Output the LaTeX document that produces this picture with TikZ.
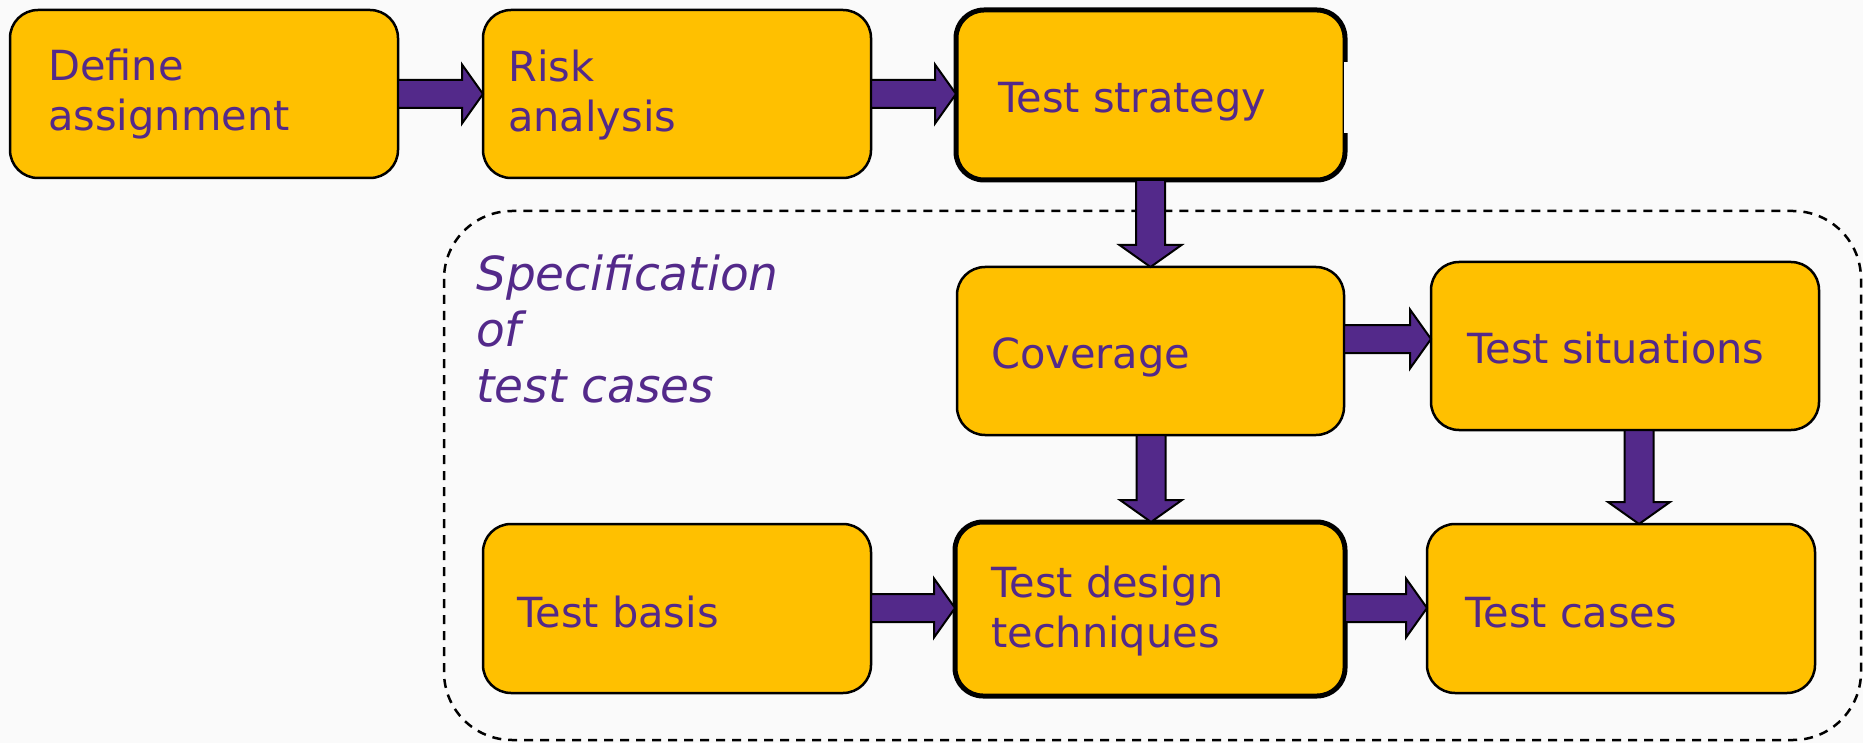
\documentclass[tikz,border=0pt]{standalone}
\usepackage{fontspec}
\setmainfont{DejaVu Sans}
\usetikzlibrary{calc}
\definecolor{boxfill}{RGB}{255,192,0}
\definecolor{purp}{RGB}{83,41,138}
\definecolor{bg}{RGB}{250,250,250}
\tikzset{
  box/.style={draw=black, line width=2.5pt, fill=boxfill, rounded corners=28pt, outer sep=0pt, inner sep=0pt, minimum width=388pt, minimum height=168pt},
  boxthick/.style={box, line width=5pt},
  lbl/.style={anchor=base west, inner sep=0pt, text=purp, align=left, font=\fontsize{41.5}{50}\selectfont},
  speclbl/.style={anchor=base west, inner sep=0pt, text=purp, align=left, font=\fontsize{47}{56}\selectfont\itshape},
  barrow/.style={draw=black, line width=2pt, fill=purp, line join=miter},
  region/.style={draw=black, line width=2.5pt, dash pattern=on 9pt off 7pt, rounded corners=68pt}
}
\newcommand\harr[3]{%
  \draw[barrow] (#1.east |- 0,#3-14) -- ($(#2.west |- 0,#3-14)+(-21,0)$) -- ($(#2.west |- 0,#3-29.5)+(-21,0)$) -- (#2.west |- 0,#3) -- ($(#2.west |- 0,#3+29.5)+(-21,0)$) -- ($(#2.west |- 0,#3+14)+(-21,0)$) -- (#1.east |- 0,#3+14) -- cycle;}
\newcommand\varr[3]{%
  \draw[barrow] (#3-14.5,0 |- #1.south) -- ($(#3-14.5,0 |- #2.north)+(0,-22)$) -- ($(#3-31,0 |- #2.north)+(0,-22)$) -- (#3,0 |- #2.north) -- ($(#3+31,0 |- #2.north)+(0,-22)$) -- ($(#3+14.5,0 |- #2.north)+(0,-22)$) -- (#3+14.5,0 |- #1.south) -- cycle;}
\begin{document}
\begin{tikzpicture}[x=1pt,y=-1pt]
\fill[bg] (0,0) rectangle (1863,743);
\useasboundingbox (0,0) rectangle (1863,743);
% dashed region
\draw[region] (444,211) rectangle (1861,740);
% boxes
\node[box] (def) at (204,94) {};
\node[box] (risk) at (677,94) {};
\node[boxthick, minimum width=389pt, minimum height=170pt] (strat) at (1150.5,95) {};
\fill[bg] (1343.8,62) rectangle (1349,133);
\node[box, minimum width=387pt] (cov) at (1150.5,351) {};
\node[box] (sit) at (1625,346) {};
\node[box, minimum height=169pt] (basis) at (677,608.5) {};
\node[boxthick, minimum width=390pt, minimum height=174pt] (tdt) at (1150,609) {};
\node[box, minimum height=169pt] (cases) at (1621,608.5) {};
% labels
\node[lbl] (tdef) at (48,131) {Define\\assignment};
\node[lbl] (trisk) at (508,132) {Risk\\analysis};
\node[lbl] (tstrat) at (998,113) {Test strategy};
\node[lbl] (tcov) at (991,368) {Coverage};
\node[lbl] (tsit) at (1467,363) {Test situations};
\node[lbl] (tbasis) at (517,627) {Test basis};
\node[lbl] (ttdt) at (991,647) {Test design\\techniques};
\node[lbl] (tcases) at (1465,627) {Test cases};
\node[speclbl] (tspec) at (476,402) {Specification\\of\\test cases};
% arrows
\harr{def}{risk}{94}
\harr{risk}{strat}{94}
\harr{cov}{sit}{339}
\harr{basis}{tdt}{608}
\harr{tdt}{cases}{608}
\varr{strat}{cov}{1150.5}
\varr{cov}{tdt}{1151}
\varr{sit}{cases}{1639}
\end{tikzpicture}
\end{document}
